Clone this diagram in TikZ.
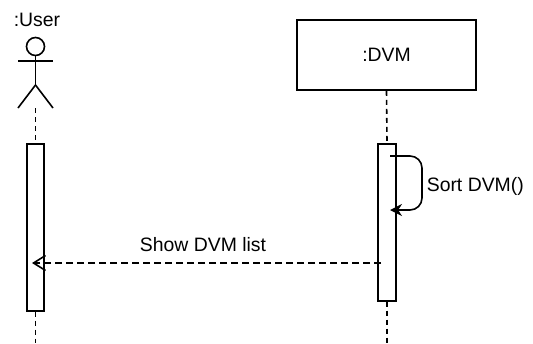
\documentclass[tikz,border=0pt]{standalone}
\usepackage{fontspec}
\setmainfont{Liberation Sans}
\usetikzlibrary{arrows.meta}
\begin{document}
\begin{tikzpicture}[x=0.5pt, y=-0.5pt, line width=0.8pt,
  every node/.style={font=\fontsize{9.7}{11.6}\selectfont},
  lifebox/.style={rectangle, draw, fill=white, minimum width=89.5pt, minimum height=35pt, inner sep=0pt},
  activebox/.style={rectangle, draw, fill=white, minimum width=8.5pt, inner sep=0pt},
  lifeline/.style={dash pattern=on 2.5pt off 2pt},
  replymsg/.style={dash pattern=on 3.5pt off 2pt, -{Straight Barb[length=6pt, width=7.5pt]}},
  callmsg/.style={rounded corners=6pt, -{Stealth[length=6pt, width=6pt]}}]
  \useasboundingbox (0,0) rectangle (533,343);
  % Actor
  \node (user) at (37,20) {:User};
  \node (head) [circle, draw, minimum size=9pt, inner sep=0pt] at (35.5,46.5) {};
  \coordinate (hip) at (35.5,85);
  \coordinate (foot) at (35.5,108);
  \draw (head.south) -- (hip);
  \draw (18,61) -- (53,61);
  \draw (hip) -- (18,108);
  \draw (hip) -- (53,108);
  % Lifeline box
  \node (dvm) [lifebox] at (386.5,55) {:DVM};
  % Activations
  \node (useract) [activebox, minimum height=83.5pt, anchor=north] at (35.5,143) {};
  \node (dvmact) [activebox, minimum width=9pt, minimum height=78.5pt, anchor=north] at (387,143) {};
  % Lifelines
  \draw[lifeline] (foot) -- (useract.north);
  \draw[lifeline] (useract.south) -- (35.5,343);
  \draw[lifeline] (dvm.south) -- (dvmact.north);
  \draw[lifeline] (dvmact.south) -- (387,343);
  % Messages
  \coordinate (sortstart) at (390,156);
  \coordinate (sortend) at (390,210);
  \draw[callmsg] (sortstart) -- (422,156) -- (422,210) -- (sortend);
  \node (sortlbl) [anchor=west, inner sep=1pt] at (424,186) {Sort DVM()};
  \coordinate (showstart) at (381,263);
  \coordinate (showend) at (32,263);
  \draw[replymsg] (showstart) -- (showend);
  \node (showlbl) at (203,245) {Show DVM list};
\end{tikzpicture}
\end{document}
